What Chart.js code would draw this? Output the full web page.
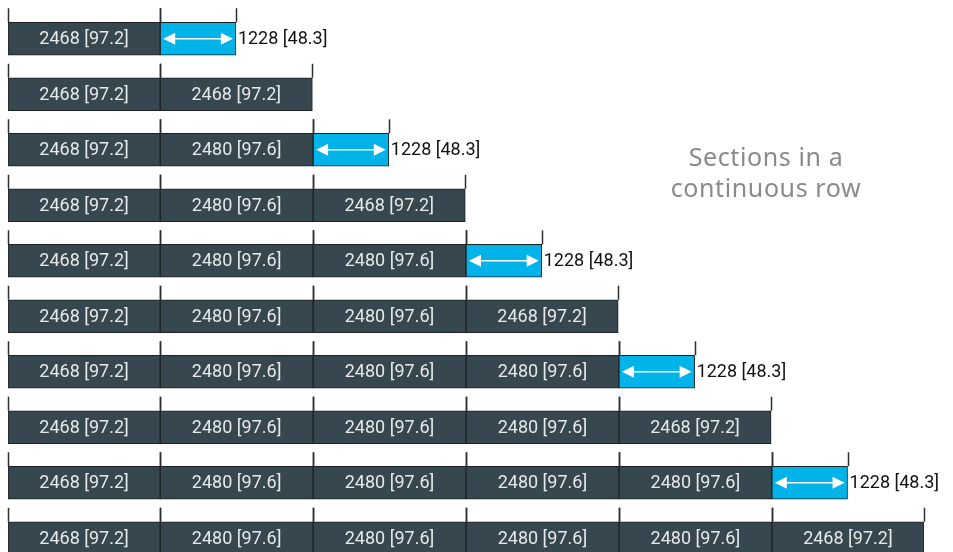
<!DOCTYPE html>
<html>
<head>
<meta charset="utf-8">
<script src="https://cdn.jsdelivr.net/npm/chart.js@4/dist/chart.umd.min.js"></script>
<style>
  html, body { margin: 0; padding: 0; background: #fff; overflow: hidden; }
  #wrap { position: relative; width: 953px; height: 568px; }
  #note {
    position: absolute; left: 626px; top: 141px; width: 280px;
    text-align: center; font-family: "Noto Sans", sans-serif;
    font-size: 25px; line-height: 31px; color: #8a8a8a; letter-spacing: 0.6px;
  }
</style>
</head>
<body>
<div id="wrap">
  <canvas id="rowChart" width="953" height="568"></canvas>
  <div id="note">Sections in a<br>continuous row</div>
</div>
<script>
const rowLabels = ["r1", "r2", "r3", "r4", "r5", "r6", "r7", "r8", "r9", "r10"];

// section lengths in mm, per row, left to right
const rowSections = [
  [2468, 1228],
  [2468, 2468],
  [2468, 2480, 1228],
  [2468, 2480, 2468],
  [2468, 2480, 2480, 1228],
  [2468, 2480, 2480, 2468],
  [2468, 2480, 2480, 2480, 1228],
  [2468, 2480, 2480, 2480, 2468],
  [2468, 2480, 2480, 2480, 2480, 1228],
  [2468, 2480, 2480, 2480, 2480, 2468],
];

// mm -> inch labels
const inchLabels = { 2468: "97.2", 2480: "97.6", 1228: "48.3" };
const halfSection = 1228;

const fullColor = "#37474f";
const halfColor = "#00b4ea";
const edgeColor = "#1c2124";

const maxSections = Math.max(...rowSections.map((r) => r.length));

const datasets = [];
for (let k = 0; k < maxSections; k++) {
  const data = rowSections.map((r) => (k < r.length ? r[k] : null));
  datasets.push({
    data: data,
    backgroundColor: data.map((v) => (v === halfSection ? halfColor : fullColor)),
    borderColor: edgeColor,
    borderWidth: 1,
    borderSkipped: false,
    barThickness: 33,
  });
}

const sectionMarks = {
  id: "sectionMarks",
  afterDatasetsDraw(chart) {
    const ctx = chart.ctx;
    ctx.save();
    chart.data.datasets.forEach((ds, di) => {
      const meta = chart.getDatasetMeta(di);
      meta.data.forEach((bar, i) => {
        const v = ds.data[i];
        if (v == null) return;
        const left = Math.min(bar.base, bar.x);
        const right = Math.max(bar.base, bar.x);
        const top = bar.y - bar.height / 2;
        const cy = bar.y;

        // tick marks above each joint
        ctx.strokeStyle = "#2a2f33";
        ctx.lineWidth = 1.5;
        [left, right].forEach((x) => {
          ctx.beginPath();
          ctx.moveTo(Math.round(x) + 0.5, top - 14);
          ctx.lineTo(Math.round(x) + 0.5, top);
          ctx.stroke();
        });

        const label = v + " [" + inchLabels[v] + "]";
        ctx.font = '18px Roboto, sans-serif';
        ctx.textBaseline = "middle";
        if (v === halfSection) {
          // double arrow inside, label outside
          const a = left + 3, b = right - 3, h = 12, w = 6;
          ctx.strokeStyle = "#ffffff";
          ctx.fillStyle = "#ffffff";
          ctx.lineWidth = 1.5;
          ctx.beginPath();
          ctx.moveTo(a + h - 2, cy);
          ctx.lineTo(b - h + 2, cy);
          ctx.stroke();
          ctx.beginPath();
          ctx.moveTo(a, cy);
          ctx.lineTo(a + h, cy - w);
          ctx.lineTo(a + h, cy + w);
          ctx.closePath();
          ctx.fill();
          ctx.beginPath();
          ctx.moveTo(b, cy);
          ctx.lineTo(b - h, cy - w);
          ctx.lineTo(b - h, cy + w);
          ctx.closePath();
          ctx.fill();
          ctx.fillStyle = "#111111";
          ctx.textAlign = "left";
          ctx.fillText(label, right + 2, cy + 1);
        } else {
          ctx.fillStyle = "#e6e9ea";
          ctx.textAlign = "center";
          ctx.fillText(label, (left + right) / 2, cy + 1);
        }
      });
    });
    ctx.restore();
  },
};

new Chart(document.getElementById("rowChart").getContext("2d"), {
  type: "bar",
  data: { labels: rowLabels, datasets: datasets },
  options: {
    indexAxis: "y",
    responsive: false,
    animation: false,
    layout: { padding: { left: 8, right: 29, top: 11, bottom: 2 } },
    scales: {
      x: { stacked: true, min: 0, max: 14856, display: false },
      y: { stacked: true, display: false },
    },
    plugins: {
      legend: { display: false },
      tooltip: { enabled: false },
    },
  },
  plugins: [sectionMarks],
});
</script>
</body>
</html>
